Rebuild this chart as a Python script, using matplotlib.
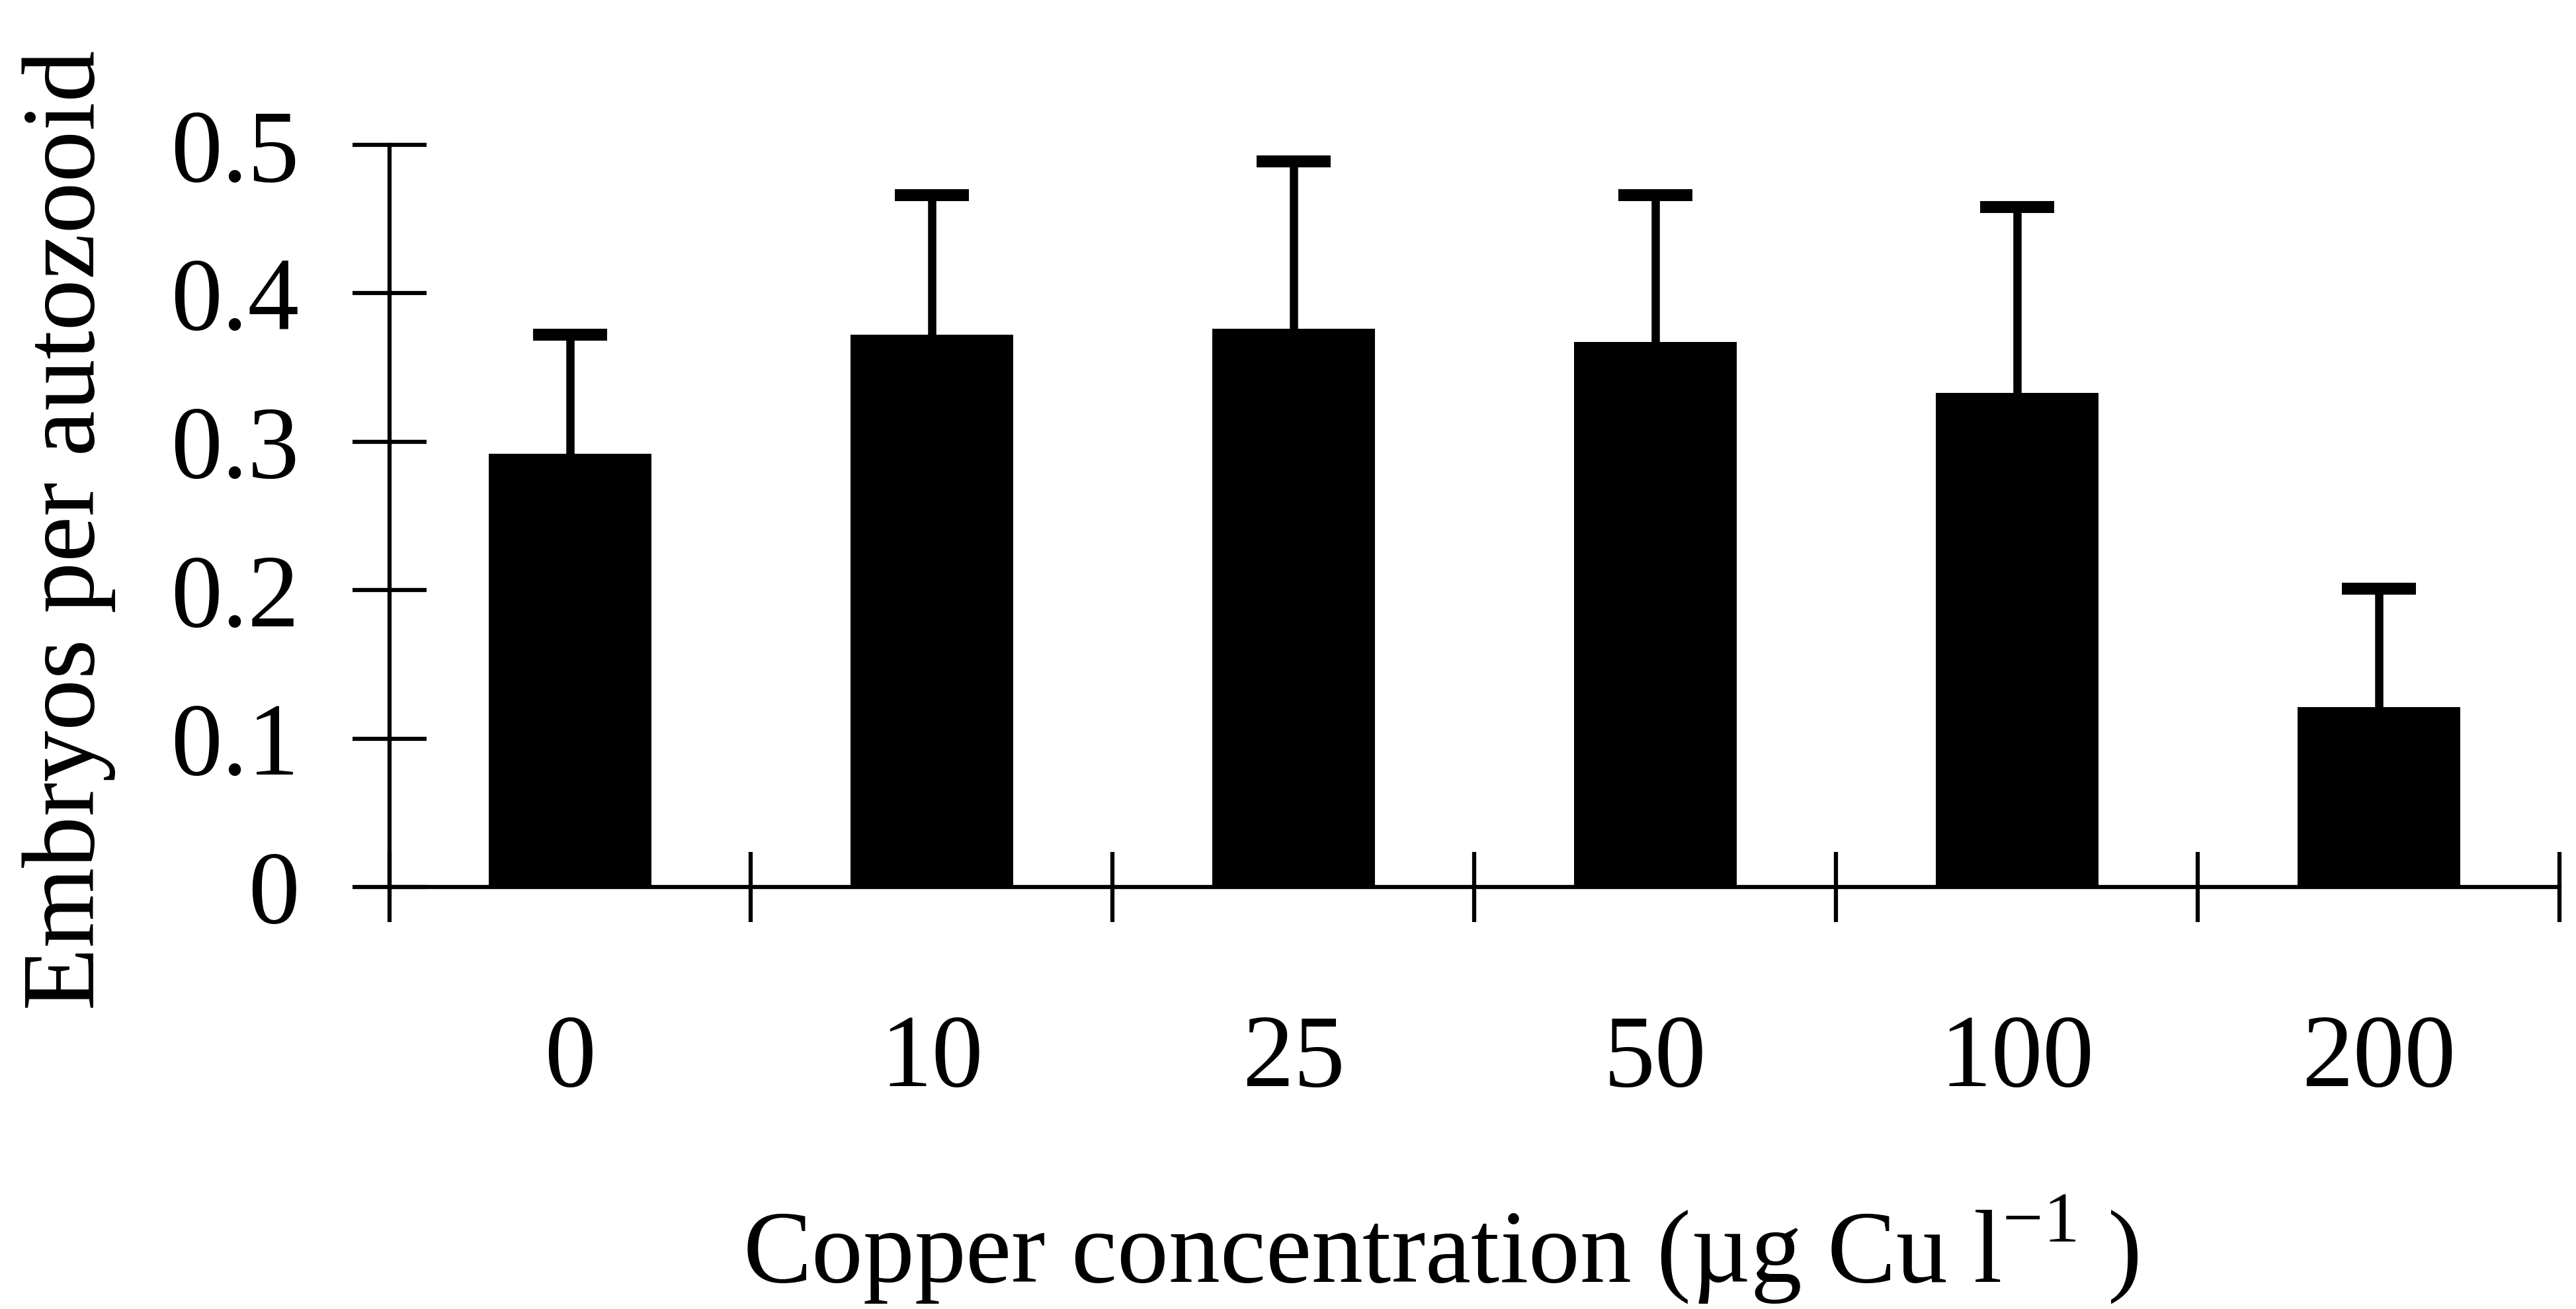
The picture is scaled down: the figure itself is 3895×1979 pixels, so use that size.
import numpy as np
import matplotlib
matplotlib.use("Agg")
import matplotlib.pyplot as plt

# copper treatments and mean embryo counts (upper SE bars only)
CONCENTRATIONS = ["0", "10", "25", "50", "100", "200"]
EMBRYOS = [0.292, 0.372, 0.376, 0.367, 0.333, 0.121]
ERR_UP = [0.080, 0.094, 0.113, 0.099, 0.125, 0.080]
Y_TICKS = [0, 0.1, 0.2, 0.3, 0.4, 0.5]
Y_TICK_LABELS = ["0", "0.1", "0.2", "0.3", "0.4", "0.5"]

plt.rcParams["font.family"] = ["Liberation Serif", "DejaVu Serif"]
plt.rcParams["mathtext.fontset"] = "custom"
plt.rcParams["mathtext.rm"] = "Liberation Serif"

FONT_SIZE = 112

fig = plt.figure(figsize=(38.95, 19.79), dpi=100)
ax = fig.add_axes([0.1511, 0.3224, 0.8425, 0.5669])

x = np.arange(len(CONCENTRATIONS))
ax.bar(x, EMBRYOS, width=0.45, color="black", zorder=2)
_, caps, _ = ax.errorbar(x, EMBRYOS, yerr=[np.zeros(len(ERR_UP)), ERR_UP],
                         fmt="none", ecolor="black", elinewidth=9,
                         capsize=40, capthick=13, zorder=1)
# only the upper cap is wanted, drop the one sitting on the bar top
for cap in caps:
  if np.allclose(cap.get_ydata(), EMBRYOS):
    cap.set_visible(False)
  else:
    cap.set_solid_capstyle("round")

ax.set_xlim(-0.5, len(CONCENTRATIONS) - 0.5)
ax.set_ylim(0, 0.5)

for side in ["top", "right"]:
  ax.spines[side].set_visible(False)
for side in ["left", "bottom"]:
  ax.spines[side].set_linewidth(4.5)

# category labels sit between the boundary ticks
ax.set_xticks(x)
ax.set_xticklabels(CONCENTRATIONS)
ax.set_xticks(np.arange(-0.5, len(CONCENTRATIONS)), minor=True)
ax.tick_params(axis="x", which="major", length=0, pad=138, labelsize=FONT_SIZE)
ax.tick_params(axis="x", which="minor", direction="inout", length=76, width=4.5)

ax.set_yticks(Y_TICKS)
ax.set_yticklabels(Y_TICK_LABELS)
ax.tick_params(axis="y", direction="inout", length=80, width=4.5, pad=58,
               labelsize=FONT_SIZE)

fig.text(0.0267, 0.595, "Embryos per autozooid", rotation=90,
         ha="center", va="center", fontsize=FONT_SIZE)
fig.text(0.5594, 0.046, "Copper concentration (µg Cu l$^{\\mathregular{-1}}$ )",
         ha="center", va="center", fontsize=FONT_SIZE)

fig.savefig("out.png", dpi=100)
